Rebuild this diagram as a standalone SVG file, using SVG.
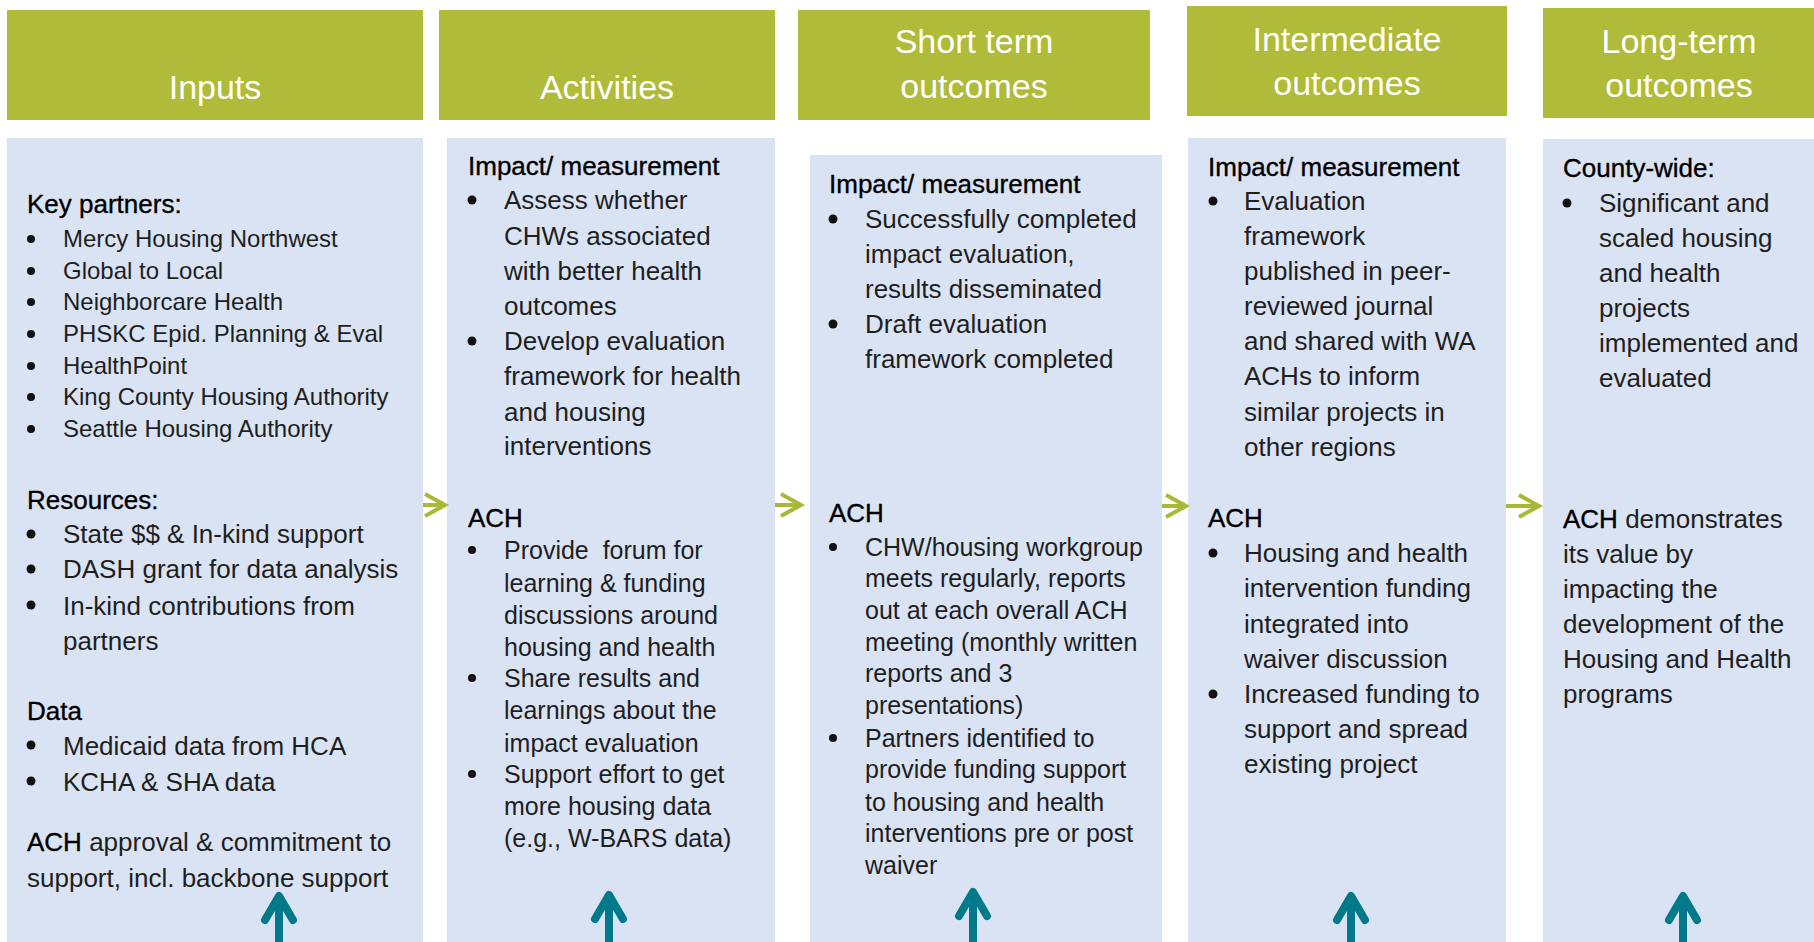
<svg xmlns="http://www.w3.org/2000/svg" width="1814" height="942" viewBox="0 0 1814 942">
  <style>
    text { font-family: "Liberation Sans", Arial, sans-serif; }
    .hdr { fill: #AFBB39; }
    .panel { fill: #DAE3F3; }
    .title { font-size: 34px; fill: #FFFFFF; text-anchor: middle; }
    .h { font-size: 26px; fill: #000000; stroke: #000000; stroke-width: 0.35px; }
    .t { font-size: 26px; fill: #1E1E1E; }
    .m { font-size: 25px; fill: #1E1E1E; }
    .s { font-size: 24px; fill: #1E1E1E; }
    .b { fill: #000000; stroke: #000000; stroke-width: 0.35px; }
    .dot { fill: #111111; }
    .flow { stroke: #A9B836; stroke-width: 4; fill: none; }
    .up { stroke: #007A8B; stroke-width: 8; fill: none; }
  </style>
  <defs>
    <marker id="chev-green" markerUnits="userSpaceOnUse" markerWidth="24" markerHeight="26" refX="20" refY="11" orient="auto" overflow="visible">
      <path d="M0,0 L20,11 L0,22" fill="none" stroke="#A9B836" stroke-width="4"/>
    </marker>
    <marker id="chev-teal" markerUnits="userSpaceOnUse" markerWidth="30" markerHeight="32" refX="24" refY="14" orient="auto" overflow="visible">
      <path d="M0,0 L24,14 L0,28" fill="none" stroke="#007A8B" stroke-width="8" stroke-linecap="round" stroke-linejoin="round"/>
    </marker>
  </defs>

  <rect width="1814" height="942" fill="#FFFFFF"/>

  <!-- Inputs -->
  <g id="inputs">
    <rect class="hdr" x="7" y="10" width="416" height="110"/>
    <rect class="panel" x="7" y="138" width="416" height="804"/>
    <text class="title" x="215" y="99">Inputs</text>
    <text class="h" x="27" y="213">Key partners:</text>
    <g class="dot">
      <circle cx="31" cy="239" r="4"/><circle cx="31" cy="271" r="4"/><circle cx="31" cy="302" r="4"/>
      <circle cx="31" cy="334" r="4"/><circle cx="31" cy="366" r="4"/><circle cx="31" cy="397" r="4"/>
      <circle cx="31" cy="429" r="4"/>
      <circle cx="31" cy="534" r="4.5"/><circle cx="31" cy="569" r="4.5"/><circle cx="31" cy="605" r="4.5"/>
      <circle cx="31" cy="745" r="4.5"/><circle cx="31" cy="781" r="4.5"/>
    </g>
    <text class="s" x="63" y="247">Mercy Housing Northwest</text>
    <text class="s" x="63" y="279">Global to Local</text>
    <text class="s" x="63" y="310">Neighborcare Health</text>
    <text class="s" x="63" y="342">PHSKC Epid. Planning &amp; Eval</text>
    <text class="s" x="63" y="374">HealthPoint</text>
    <text class="s" x="63" y="405">King County Housing Authority</text>
    <text class="s" x="63" y="437">Seattle Housing Authority</text>
    <text class="h" x="27" y="509">Resources:</text>
    <text class="t" x="63" y="543">State $$ &amp; In-kind support</text>
    <text class="t" x="63" y="578">DASH grant for data analysis</text>
    <text class="t" x="63" y="615">In-kind contributions from</text>
    <text class="t" x="63" y="650">partners</text>
    <text class="h" x="27" y="720">Data</text>
    <text class="t" x="63" y="755">Medicaid data from HCA</text>
    <text class="t" x="63" y="791">KCHA &amp; SHA data</text>
    <text class="t" x="27" y="851"><tspan class="b">ACH</tspan> approval &amp; commitment to</text>
    <text class="t" x="27" y="887">support, incl. backbone support</text>
  </g>

  <!-- Activities -->
  <g id="activities">
    <rect class="hdr" x="439" y="10" width="336" height="110"/>
    <rect class="panel" x="447" y="138" width="328" height="804"/>
    <text class="title" x="607" y="99">Activities</text>
    <text class="h" x="468" y="175">Impact/ measurement</text>
    <g class="dot">
      <circle cx="472" cy="200" r="4.5"/><circle cx="472" cy="341" r="4.5"/>
      <circle cx="472" cy="550" r="4"/><circle cx="472" cy="678" r="4"/><circle cx="472" cy="774" r="4"/>
    </g>
    <text class="t" x="504" y="209">Assess whether</text>
    <text class="t" x="504" y="245">CHWs associated</text>
    <text class="t" x="504" y="280">with better health</text>
    <text class="t" x="504" y="315">outcomes</text>
    <text class="t" x="504" y="350">Develop evaluation</text>
    <text class="t" x="504" y="385">framework for health</text>
    <text class="t" x="504" y="421">and housing</text>
    <text class="t" x="504" y="455">interventions</text>
    <text class="h" x="468" y="527">ACH</text>
    <text class="m" x="504" y="559">Provide&#160; forum for</text>
    <text class="m" x="504" y="592">learning &amp; funding</text>
    <text class="m" x="504" y="624">discussions around</text>
    <text class="m" x="504" y="656">housing and health</text>
    <text class="m" x="504" y="687">Share results and</text>
    <text class="m" x="504" y="719">learnings about the</text>
    <text class="m" x="504" y="752">impact evaluation</text>
    <text class="m" x="504" y="783">Support effort to get</text>
    <text class="m" x="504" y="815">more housing data</text>
    <text class="m" x="504" y="847">(e.g., W-BARS data)</text>
  </g>

  <!-- Short term outcomes -->
  <g id="short-term">
    <rect class="hdr" x="798" y="10" width="352" height="110"/>
    <rect class="panel" x="810" y="155" width="352" height="787"/>
    <text class="title" x="974" y="53">Short term</text>
    <text class="title" x="974" y="98">outcomes</text>
    <text class="h" x="829" y="193">Impact/ measurement</text>
    <g class="dot">
      <circle cx="833" cy="219" r="4.5"/><circle cx="833" cy="324" r="4.5"/>
      <circle cx="833" cy="547" r="4"/><circle cx="833" cy="738" r="4"/>
    </g>
    <text class="t" x="865" y="228">Successfully completed</text>
    <text class="t" x="865" y="263">impact evaluation,</text>
    <text class="t" x="865" y="298">results disseminated</text>
    <text class="t" x="865" y="333">Draft evaluation</text>
    <text class="t" x="865" y="368">framework completed</text>
    <text class="h" x="829" y="522">ACH</text>
    <text class="m" x="865" y="556">CHW/housing workgroup</text>
    <text class="m" x="865" y="587">meets regularly, reports</text>
    <text class="m" x="865" y="619">out at each overall ACH</text>
    <text class="m" x="865" y="651">meeting (monthly written</text>
    <text class="m" x="865" y="682">reports and 3</text>
    <text class="m" x="865" y="714">presentations)</text>
    <text class="m" x="865" y="747">Partners identified to</text>
    <text class="m" x="865" y="778">provide funding support</text>
    <text class="m" x="865" y="811">to housing and health</text>
    <text class="m" x="865" y="842">interventions pre or post</text>
    <text class="m" x="865" y="874">waiver</text>
  </g>

  <!-- Intermediate outcomes -->
  <g id="intermediate">
    <rect class="hdr" x="1187" y="6" width="320" height="110"/>
    <rect class="panel" x="1188" y="138" width="318" height="804"/>
    <text class="title" x="1347" y="51">Intermediate</text>
    <text class="title" x="1347" y="95">outcomes</text>
    <text class="h" x="1208" y="176">Impact/ measurement</text>
    <g class="dot">
      <circle cx="1213" cy="201" r="4.5"/>
      <circle cx="1213" cy="553" r="4.5"/><circle cx="1213" cy="694" r="4.5"/>
    </g>
    <text class="t" x="1244" y="210">Evaluation</text>
    <text class="t" x="1244" y="245">framework</text>
    <text class="t" x="1244" y="280">published in peer-</text>
    <text class="t" x="1244" y="315">reviewed journal</text>
    <text class="t" x="1244" y="350">and shared with WA</text>
    <text class="t" x="1244" y="385">ACHs to inform</text>
    <text class="t" x="1244" y="421">similar projects in</text>
    <text class="t" x="1244" y="456">other regions</text>
    <text class="h" x="1208" y="527">ACH</text>
    <text class="t" x="1244" y="562">Housing and health</text>
    <text class="t" x="1244" y="597">intervention funding</text>
    <text class="t" x="1244" y="633">integrated into</text>
    <text class="t" x="1244" y="668">waiver discussion</text>
    <text class="t" x="1244" y="703">Increased funding to</text>
    <text class="t" x="1244" y="738">support and spread</text>
    <text class="t" x="1244" y="773">existing project</text>
  </g>

  <!-- Long-term outcomes -->
  <g id="long-term">
    <rect class="hdr" x="1543" y="8" width="271" height="110"/>
    <rect class="panel" x="1543" y="139" width="271" height="803"/>
    <text class="title" x="1679" y="53">Long-term</text>
    <text class="title" x="1679" y="97">outcomes</text>
    <text class="h" x="1563" y="177">County-wide:</text>
    <circle class="dot" cx="1567" cy="203" r="4.5"/>
    <text class="t" x="1599" y="212">Significant and</text>
    <text class="t" x="1599" y="247">scaled housing</text>
    <text class="t" x="1599" y="282">and health</text>
    <text class="t" x="1599" y="317">projects</text>
    <text class="t" x="1599" y="352">implemented and</text>
    <text class="t" x="1599" y="387">evaluated</text>
    <text class="t" x="1563" y="528"><tspan class="b">ACH</tspan> demonstrates</text>
    <text class="t" x="1563" y="563">its value by</text>
    <text class="t" x="1563" y="598">impacting the</text>
    <text class="t" x="1563" y="633">development of the</text>
    <text class="t" x="1563" y="668">Housing and Health</text>
    <text class="t" x="1563" y="703">programs</text>
  </g>

  <!-- Connectors -->
  <g id="connectors">
    <path class="flow" d="M423,505 H445" marker-end="url(#chev-green)"/>
    <path class="flow" d="M775,505 H801" marker-end="url(#chev-green)"/>
    <path class="flow" d="M1162,506 H1186" marker-end="url(#chev-green)"/>
    <path class="flow" d="M1506,506 H1539" marker-end="url(#chev-green)"/>
    <path class="up" d="M279,942 V896" marker-end="url(#chev-teal)"/>
    <path class="up" d="M609,942 V895" marker-end="url(#chev-teal)"/>
    <path class="up" d="M973,942 V892" marker-end="url(#chev-teal)"/>
    <path class="up" d="M1351,942 V896" marker-end="url(#chev-teal)"/>
    <path class="up" d="M1683,942 V896" marker-end="url(#chev-teal)"/>
  </g>
</svg>
